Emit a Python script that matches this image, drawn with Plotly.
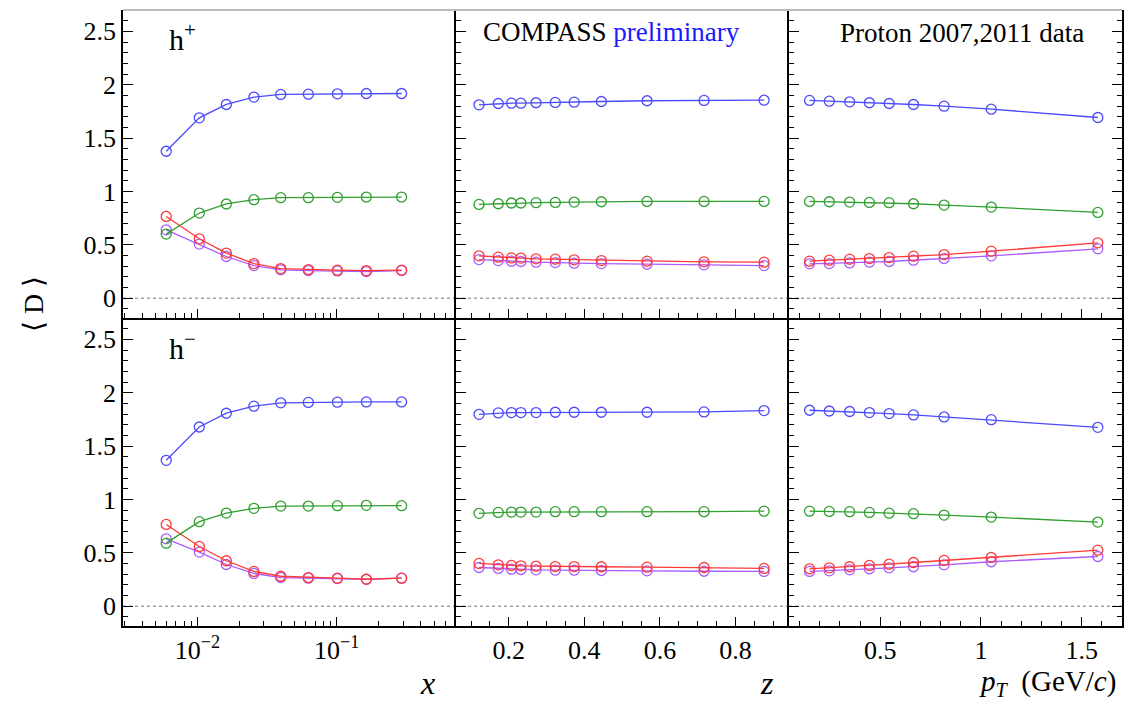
import plotly.graph_objects as go

# ---------------- data ----------------
x_vals = [0.00596, 0.0103, 0.0161, 0.0254, 0.0396, 0.0625, 0.101, 0.163, 0.292]
z_vals = [0.121, 0.172, 0.207, 0.232, 0.272, 0.323, 0.373, 0.445, 0.566, 0.717, 0.876]
pt_vals = [0.149, 0.247, 0.348, 0.446, 0.544, 0.665, 0.817, 1.051, 1.580]

# h+ vs x
hp_x_blue = [1.377, 1.690, 1.815, 1.884, 1.909, 1.912, 1.915, 1.918, 1.918]
hp_x_green = [0.601, 0.798, 0.883, 0.923, 0.942, 0.942, 0.945, 0.948, 0.948]
hp_x_red = [0.766, 0.557, 0.423, 0.325, 0.278, 0.269, 0.263, 0.259, 0.263]
hp_x_purple = [0.641, 0.507, 0.391, 0.306, 0.266, 0.259, 0.256, 0.250, 0.259]
# h- vs x
hm_x_blue = [1.367, 1.679, 1.808, 1.874, 1.905, 1.909, 1.912, 1.914, 1.914]
hm_x_green = [0.591, 0.792, 0.873, 0.917, 0.938, 0.938, 0.942, 0.945, 0.942]
hm_x_red = [0.766, 0.560, 0.426, 0.326, 0.281, 0.269, 0.263, 0.253, 0.263]
hm_x_purple = [0.632, 0.507, 0.391, 0.307, 0.269, 0.263, 0.260, 0.253, 0.263]
# h+ vs z
hp_z_blue = [1.812, 1.824, 1.827, 1.827, 1.831, 1.834, 1.837, 1.843, 1.850, 1.853, 1.855]
hp_z_green = [0.879, 0.885, 0.892, 0.892, 0.895, 0.898, 0.901, 0.904, 0.907, 0.907, 0.907]
hp_z_red = [0.397, 0.385, 0.378, 0.376, 0.369, 0.366, 0.360, 0.353, 0.347, 0.341, 0.338]
hp_z_purple = [0.362, 0.353, 0.347, 0.344, 0.338, 0.334, 0.329, 0.325, 0.319, 0.313, 0.306]
# h- vs z
hm_z_blue = [1.798, 1.811, 1.814, 1.814, 1.814, 1.817, 1.817, 1.817, 1.817, 1.820, 1.833]
hm_z_green = [0.870, 0.879, 0.882, 0.882, 0.882, 0.886, 0.886, 0.886, 0.886, 0.886, 0.891]
hm_z_red = [0.401, 0.388, 0.382, 0.379, 0.375, 0.372, 0.372, 0.370, 0.366, 0.363, 0.354]
hm_z_purple = [0.363, 0.354, 0.347, 0.344, 0.341, 0.338, 0.338, 0.335, 0.332, 0.328, 0.326]
# h+ vs pT
hp_pt_blue = [1.853, 1.846, 1.840, 1.831, 1.824, 1.815, 1.799, 1.771, 1.693]
hp_pt_green = [0.907, 0.904, 0.901, 0.898, 0.895, 0.885, 0.873, 0.854, 0.804]
hp_pt_red = [0.347, 0.357, 0.366, 0.372, 0.381, 0.394, 0.409, 0.441, 0.519]
hp_pt_purple = [0.322, 0.325, 0.331, 0.338, 0.344, 0.357, 0.372, 0.397, 0.463]
# h- vs pT
hm_pt_blue = [1.836, 1.829, 1.824, 1.814, 1.805, 1.792, 1.773, 1.748, 1.676]
hm_pt_green = [0.891, 0.888, 0.886, 0.879, 0.872, 0.867, 0.854, 0.835, 0.788]
hm_pt_red = [0.351, 0.360, 0.370, 0.382, 0.394, 0.410, 0.429, 0.457, 0.525]
hm_pt_purple = [0.326, 0.332, 0.341, 0.351, 0.360, 0.370, 0.388, 0.417, 0.466]

y_ticks = [0, 0.5, 1, 1.5, 2, 2.5]
log_tick_vals = [0.01, 0.1]
log_tick_text = ["10<sup>\u22122</sup>", "10<sup>\u22121</sup>"]

COLORS = {"blue": "#4a4aff", "green": "#2f9f2f", "red": "#ff3838", "purple": "#a85cff"}
FONT = "Liberation Serif"

panels = [
    (1, x_vals, {"blue": hp_x_blue, "green": hp_x_green, "red": hp_x_red, "purple": hp_x_purple}),
    (2, z_vals, {"blue": hp_z_blue, "green": hp_z_green, "red": hp_z_red, "purple": hp_z_purple}),
    (3, pt_vals, {"blue": hp_pt_blue, "green": hp_pt_green, "red": hp_pt_red, "purple": hp_pt_purple}),
    (4, x_vals, {"blue": hm_x_blue, "green": hm_x_green, "red": hm_x_red, "purple": hm_x_purple}),
    (5, z_vals, {"blue": hm_z_blue, "green": hm_z_green, "red": hm_z_red, "purple": hm_z_purple}),
    (6, pt_vals, {"blue": hm_pt_blue, "green": hm_pt_green, "red": hm_pt_red, "purple": hm_pt_purple}),
]

fig = go.Figure()
for idx, xs, series in panels:
    xa = "x" if idx == 1 else f"x{idx}"
    ya = "y" if idx == 1 else f"y{idx}"
    for name in ["purple", "red", "green", "blue"]:
        fig.add_trace(go.Scatter(
            x=xs, y=series[name], mode="lines+markers", xaxis=xa, yaxis=ya,
            line=dict(color=COLORS[name], width=1.3),
            marker=dict(symbol="circle-open", size=10, color=COLORS[name], line=dict(width=1.3)),
            showlegend=False))

xdomains = [[0, 1 / 3], [1 / 3, 2 / 3], [2 / 3, 1]]
ydomains = [[0.5, 1], [0, 0.5]]
xranges = [[-2.535, -0.144], [0.06, 0.942], [0.047, 1.70]]
yrange = [-0.185, 2.70]

axis_common = dict(showline=True, linecolor="black", linewidth=1.6, ticks="inside",
                   tickcolor="black", tickwidth=1.4, showgrid=False, zeroline=False,
                   tickfont=dict(family=FONT, size=26, color="black"))

layout = dict(width=1134, height=707, margin=dict(l=123, r=12, t=10, b=81),
              plot_bgcolor="white", paper_bgcolor="white", showlegend=False,
              font=dict(family=FONT))

for r in range(2):
    for c in range(3):
        idx = r * 3 + c + 1
        kx = "xaxis" if idx == 1 else f"xaxis{idx}"
        ky = "yaxis" if idx == 1 else f"yaxis{idx}"
        ya = "y" if idx == 1 else f"y{idx}"
        xa = "x" if idx == 1 else f"x{idx}"
        xd = dict(axis_common, domain=xdomains[c], anchor=ya, range=xranges[c], ticklen=9,
                  showticklabels=(r == 1))
        if c == 0:
            minor_vals = [k * 10 ** e for e in (-3, -2, -1) for k in range(2, 10)]
            xd.update(type="log", tickvals=log_tick_vals, ticktext=log_tick_text,
                      minor=dict(ticks="inside", ticklen=5, tickcolor="black", tickwidth=1.2,
                                 tickvals=minor_vals, showgrid=False))
        elif c == 1:
            xd.update(tick0=0, dtick=0.2,
                      minor=dict(ticks="inside", ticklen=5, tickcolor="black", tickwidth=1.2,
                                 dtick=0.05, showgrid=False))
        else:
            xd.update(tick0=0, dtick=0.5,
                      minor=dict(ticks="inside", ticklen=5, tickcolor="black", tickwidth=1.2,
                                 dtick=0.1, showgrid=False))
        yd = dict(axis_common, domain=ydomains[r], anchor=xa, range=yrange,
                  tickvals=y_ticks, ticklen=10, showticklabels=(c == 0),
                  minor=dict(ticks="inside", ticklen=5, tickcolor="black", tickwidth=1.2,
                             dtick=0.1, tick0=0, showgrid=False))
        if c == 2:
            yd["mirror"] = "ticks"
        layout[kx] = xd
        layout[ky] = yd

fig.update_layout(**layout)

# dotted zero lines and top border
shapes = []
for idx in range(1, 7):
    xa = "x" if idx == 1 else f"x{idx}"
    ya = "y" if idx == 1 else f"y{idx}"
    shapes.append(dict(type="line", xref=f"{xa} domain", yref=ya, x0=0, x1=1, y0=0, y1=0,
                       line=dict(color="#a0a0a0", width=1.3, dash="dot"), layer="below"))
shapes.append(dict(type="line", xref="paper", yref="paper", x0=0, x1=1, y0=1, y1=1,
                   line=dict(color="#bdbdbd", width=2)))
fig.update_layout(shapes=shapes)

ann = []
def add_text(text, x, y, size, xanchor="left", yanchor="middle", angle=0):
    ann.append(dict(text=text, x=x, y=y, xref="paper", yref="paper", showarrow=False,
                    xanchor=xanchor, yanchor=yanchor, textangle=angle,
                    font=dict(family=FONT, size=size, color="black")))

add_text("h<sup>+</sup>", 0.044, 0.956, 30)
add_text("h<sup>\u2212</sup>", 0.044, 0.4545, 30)
add_text("COMPASS <span style='color:#1a1aff'>preliminary</span>", 0.358, 0.964, 27)
add_text("Proton 2007,2011 data", 0.716, 0.963, 27)
add_text("\u27e8 D \u27e9", -0.090, 0.5227, 28, xanchor="center", angle=-90)
add_text("<i>x</i>", 0.3143, -0.0925, 32, xanchor="right")
add_text("<i>z</i>", 0.6537, -0.0925, 32, xanchor="right")
add_text("<i>p</i><sub><i>T</i></sub>\u2002(GeV/<i>c</i>)", 0.996, -0.0925, 29, xanchor="right")
fig.update_layout(annotations=ann)

fig.write_html("out.html")
